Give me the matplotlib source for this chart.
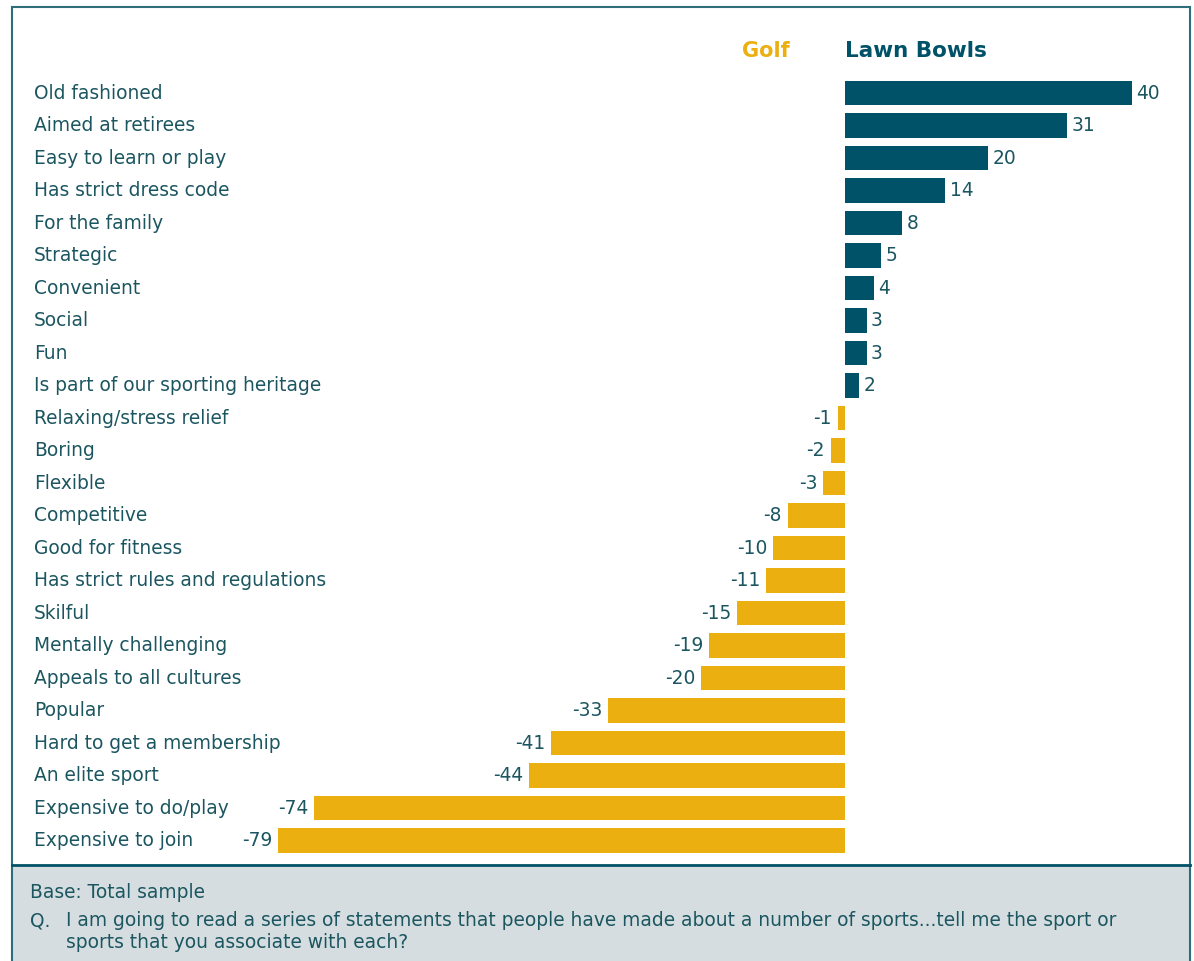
import matplotlib.pyplot as plt
from matplotlib.patches import Rectangle
import matplotlib.transforms as mtransforms

# attribute associations, net Lawn Bowls minus Golf
categories = [
    "Old fashioned", "Aimed at retirees", "Easy to learn or play",
    "Has strict dress code", "For the family", "Strategic", "Convenient",
    "Social", "Fun", "Is part of our sporting heritage",
    "Relaxing/stress relief", "Boring", "Flexible", "Competitive",
    "Good for fitness", "Has strict rules and regulations", "Skilful",
    "Mentally challenging", "Appeals to all cultures", "Popular",
    "Hard to get a membership", "An elite sport", "Expensive to do/play",
    "Expensive to join",
]
values = [40, 31, 20, 14, 8, 5, 4, 3, 3, 2, -1, -2, -3, -8, -10, -11,
          -15, -19, -20, -33, -41, -44, -74, -79]

TEAL = "#005268"
GOLD = "#EBB010"
TXT = "#1B5660"
FOOT_BG = "#D5DDE0"

W, H = 1194, 961
fig = plt.figure(figsize=(W / 100, H / 100), dpi=100)

# axes placed so zero sits at x=845px, 40 units ~ 287px
left_px, right_px, top_px, bot_px = 20, 1180, 60, 860
ppu = 287 / 40
ax = fig.add_axes([left_px / W, 1 - bot_px / H, (right_px - left_px) / W,
                   (bot_px - top_px) / H])
ax.set_xlim(-(845 - left_px) / ppu, (right_px - 845) / ppu)
row = 32.5
ax.set_ylim((bot_px - 93) / row, (top_px - 93) / row)
ax.axis("off")

ypos = list(range(len(categories)))
colors = [TEAL if v > 0 else GOLD for v in values]
ax.barh(ypos, values, height=0.74, color=colors)

lbl_tr = mtransforms.blended_transform_factory(fig.transFigure, ax.transData)
for y, cat, v in zip(ypos, categories, values):
    ax.text(34 / W, y, cat, transform=lbl_tr, ha="left", va="center",
            fontsize=13.4, color=TXT)
    if v > 0:
        ax.text(v + 0.6, y, str(v), ha="left", va="center",
                fontsize=13.4, color=TXT)
    else:
        ax.text(v - 0.8, y, str(v), ha="right", va="center",
                fontsize=13.4, color=TXT)

# series headers
fig.text(790 / W, 1 - 51 / H, "Golf", ha="right", va="center",
         fontsize=15, fontweight="bold", color=GOLD)
fig.text(845 / W, 1 - 51 / H, "Lawn Bowls", ha="left", va="center",
         fontsize=15.5, fontweight="bold", color=TEAL)

# footer panel
fig.patches.append(Rectangle((12 / W, 0), (1190 - 12) / W, 1 - 865 / H,
                             transform=fig.transFigure, facecolor=FOOT_BG,
                             edgecolor="none", zorder=0))
fig.add_artist(plt.Line2D([12 / W, 1190 / W], [1 - 865 / H, 1 - 865 / H],
                          transform=fig.transFigure, color=TEAL, lw=2))
fig.text(30 / W, 1 - 892 / H, "Base: Total sample", ha="left", va="center",
         fontsize=13.4, color=TXT)
fig.text(30 / W, 1 - 921 / H, "Q.", ha="left", va="center",
         fontsize=13.4, color=TXT)
fig.text(66 / W, 1 - 921 / H,
         "I am going to read a series of statements that people have made "
         "about a number of sports...tell me the sport or",
         ha="left", va="center", fontsize=13.4, color=TXT)
fig.text(66 / W, 1 - 943 / H, "sports that you associate with each?",
         ha="left", va="center", fontsize=13.4, color=TXT)

# outer frame
fig.add_artist(Rectangle((12 / W, -0.01), (1190 - 12) / W, 1.01 - 7 / H,
                         transform=fig.transFigure, facecolor="none",
                         edgecolor="#2E6E7A", lw=1.5))

fig.savefig("out.png", dpi=100)
